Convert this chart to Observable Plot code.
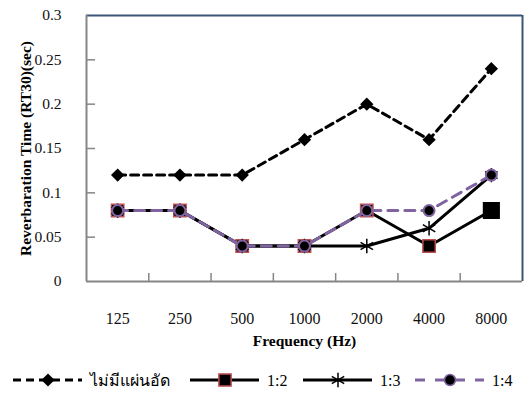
<!DOCTYPE html>
<html><head><meta charset="utf-8">
<script src="https://cdn.jsdelivr.net/npm/d3@7"></script>
<script src="https://cdn.jsdelivr.net/npm/@observablehq/plot@0.6"></script>
<style>
body{margin:0;background:#fff;}
#chart{position:relative;width:532px;height:395px;overflow:hidden;}
#legend{position:absolute;left:0;top:362px;}
#chart svg text{font-family:"Liberation Serif","Times New Roman",Times,serif !important;}
</style></head><body><div id="chart"></div>
<script>
const frequencies = ["125","250","500","1000","2000","4000","8000"];
const noPanel = [0.12,0.12,0.12,0.16,0.20,0.16,0.24];
const ratio12 = [0.08,0.08,0.04,0.04,0.08,0.04,0.08];
const ratio13 = [0.08,0.08,0.04,0.04,0.04,0.06,0.12];
const ratio14 = [0.08,0.08,0.04,0.04,0.08,0.08,0.12];
const seriesNames = ["ไม่มีแผ่นอัด","1:2","1:3","1:4"];
const yTicks = [0,0.05,0.1,0.15,0.2,0.25,0.3];
const yTickLabels = ["0","0.05","0.1","0.15","0.2","0.25","0.3"];

const SERIF = "Liberation Serif";
const GRAY = "#868686", NAVY = "#3A5577", RED = "#C0504D", PURPLE = "#8064A2";
const rows = vals => vals.map((v, k) => ({i: k + 1, v}));
const idx = frequencies.map((f, k) => k + 1);
const bounds = idx.slice(0, -1).map(i => i + 0.5);

const plot = Plot.plot({
  width: 532, height: 358,
  marginLeft: 86, marginRight: 10, marginTop: 15, marginBottom: 77,
  style: {background: "white", overflow: "visible"},
  x: {type: "linear", domain: [0.5, 7.5]},
  y: {domain: [0, 0.3]},
  r: {type: "identity"},
  marks: [
    Plot.axisX(idx, {tickSize: 0, tickPadding: 31, tickFormat: i => frequencies[i - 1], fontSize: 16, label: null, fill: "#111", fontFamily: SERIF}),
    Plot.axisY(yTicks, {tickSize: 0, tickPadding: 25, tickFormat: d => yTickLabels[yTicks.indexOf(d)], fontSize: 15.5, label: null, fill: "#111", fontFamily: SERIF}),
    Plot.ruleY(yTicks.slice(1, -1), {x1: 0.5, x2: 0.5 + 9 / 62.3, stroke: GRAY, strokeWidth: 1.5}),
    Plot.ruleX(bounds, {y1: 0, y2: 0.009, stroke: GRAY, strokeWidth: 1.5}),
    Plot.ruleY([0.3], {stroke: NAVY, strokeWidth: 2}),
    Plot.ruleX([7.5], {stroke: NAVY, strokeWidth: 2}),
    Plot.ruleX([0.5], {stroke: GRAY, strokeWidth: 2}),
    Plot.ruleY([0], {stroke: GRAY, strokeWidth: 2}),
    Plot.text(["Frequency (Hz)"], {frameAnchor: "bottom", dy: 64, fontWeight: "bold", fontSize: 15.5, fontFamily: SERIF}),
    Plot.text(["Reverbaration Time (RT30)(sec)"], {frameAnchor: "left", textAnchor: "middle", rotate: -90, dx: -60, fontWeight: "bold", fontSize: 15.5, fontFamily: SERIF}),
    Plot.line(rows(noPanel), {x: "i", y: "v", stroke: "black", strokeWidth: 3, strokeDasharray: "8,5"}),
    Plot.dot(rows(noPanel), {x: "i", y: "v", symbol: "diamond2", r: 6, fill: "black", stroke: "none"}),
    Plot.line(rows(ratio12), {x: "i", y: "v", stroke: "black", strokeWidth: 3}),
    Plot.dot(rows(ratio12), {x: "i", y: "v", symbol: "square", r: d => d.i === 7 ? 8.8 : 7, fill: "black", stroke: d => d.i === 7 ? "black" : RED, strokeWidth: 1.5}),
    Plot.line(rows(ratio13), {x: "i", y: "v", stroke: "black", strokeWidth: 3}),
    Plot.dot(rows(ratio13), {x: "i", y: "v", symbol: "asterisk", r: 6.8, stroke: "black", strokeWidth: 1.5}),
    Plot.line(rows(ratio14), {x: "i", y: "v", stroke: PURPLE, strokeWidth: 3, strokeDasharray: "10,7"}),
    Plot.dot(rows(ratio14), {x: "i", y: "v", symbol: "circle", r: 5.5, fill: "black", stroke: PURPLE, strokeWidth: 2})
  ]
});
const chart = document.getElementById("chart");
chart.appendChild(plot);

const legendItems = [
  {name: seriesNames[0], x: 13, stroke: "black", dash: "8,5", sym: d3.symbolDiamond2, size: 110, fill: "black", mstroke: "none"},
  {name: seriesNames[1], x: 190, stroke: "black", dash: null, sym: d3.symbolSquare, size: 150, fill: "black", mstroke: RED},
  {name: seriesNames[2], x: 303, stroke: "black", dash: null, sym: d3.symbolAsterisk, size: 145, fill: "none", mstroke: "black"},
  {name: seriesNames[3], x: 415, stroke: PURPLE, dash: "10,10", sym: d3.symbolCircle, size: 95, fill: "black", mstroke: PURPLE}
];
const lg = d3.select(chart).append("svg").attr("id", "legend").attr("width", 532).attr("height", 33);
for (const it of legendItems) {
  const g = lg.append("g").attr("transform", `translate(${it.x},18)`);
  g.append("line").attr("x1", 0).attr("x2", 69).attr("stroke", it.stroke).attr("stroke-width", 3)
    .attr("stroke-dasharray", it.dash);
  g.append("path").attr("transform", "translate(35,0)").attr("d", d3.symbol(it.sym, it.size)())
    .attr("fill", it.fill).attr("stroke", it.mstroke).attr("stroke-width", 1.5);
  g.append("text").attr("x", 77).attr("y", 0).attr("dy", "0.35em")
    .attr("font-size", 16).text(it.name);
}
</script></body></html>
